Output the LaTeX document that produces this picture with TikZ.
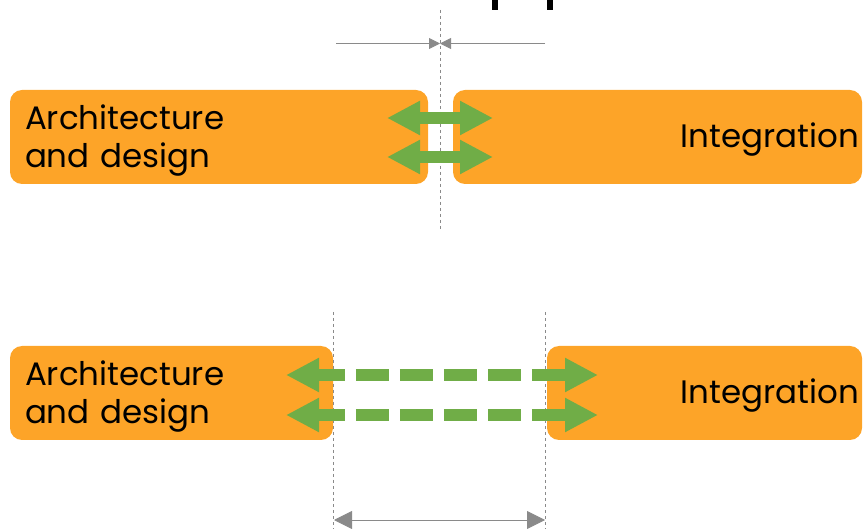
\documentclass[tikz,border=0pt]{standalone}
\usepackage{fontspec}
\setmainfont{Poppins}
\usepackage{xcolor}
\usetikzlibrary{arrows.meta}

\definecolor{boxorange}{HTML}{FDA428}
\definecolor{linkgreen}{HTML}{70AD47}
\definecolor{guidegray}{HTML}{8A8A8A}

\begin{document}
\begin{tikzpicture}[
  x=1pt, y=-1pt,
  block/.style={fill=boxorange, rounded corners=12pt, minimum height=94pt,
    inner sep=0pt, font=\fontsize{32.5}{38}\selectfont},
  leftblock/.style={block, align=left, text height=16pt, text depth=30pt},
  rightblock/.style={block, align=right, text height=32pt, text depth=10pt},
  link/.style={linkgreen, line width=12pt, {Triangle[length=33pt,width=32pt]}-{Triangle[length=33pt,width=32pt]}},
  guide/.style={guidegray, line width=0.8pt, dash pattern=on 3pt off 3pt},
  measure/.style={guidegray, line width=0.9pt},
]
  \useasboundingbox (0,0) rectangle (863,529);

  % clipped glyph ends at the top edge
  \fill[black] (492,0) rectangle (498,10.5);
  \fill[black] (547,0) rectangle (553,10.5);

  % tight hand-over
  \node[leftblock, minimum width=418pt, text width=388pt] (archTop) at (219,137)
    {Architecture\\and design};
  \node[rightblock, minimum width=409pt, text width=403pt] (integTop) at (657.5,137)
    {Integration};
  \coordinate (gapTopA) at (440,10);
  \coordinate (gapTopB) at (440,230);
  \draw[guide] (gapTopA) -- (gapTopB);

  \coordinate (mTopL) at (336,43.5);
  \coordinate (mTopR) at (545,43.5);
  \coordinate (mTopC) at (440,43.5);
  \draw[measure, -{Triangle[length=11pt,width=11pt]}] (mTopL) -- (mTopC);
  \draw[measure, -{Triangle[length=11pt,width=11pt]}] (mTopR) -- (mTopC);

  \coordinate (lnkA1) at (387,118);
  \coordinate (lnkA2) at (493,118);
  \coordinate (lnkB1) at (387,157);
  \coordinate (lnkB2) at (493,157);
  \draw[link] (lnkA1) -- (lnkA2);
  \draw[link] (lnkB1) -- (lnkB2);

  % loose hand-over
  \node[leftblock, minimum width=323pt, text width=293pt] (archBot) at (171.5,393)
    {Architecture\\and design};
  \node[rightblock, minimum width=315pt, text width=309pt] (integBot) at (704.5,393)
    {Integration};
  \coordinate (gapBotA) at (333,312);
  \coordinate (gapBotB) at (333,529);
  \coordinate (gapBotC) at (545,312);
  \coordinate (gapBotD) at (545,529);
  \draw[guide] (gapBotA) -- (gapBotB);
  \draw[guide] (gapBotC) -- (gapBotD);

  \coordinate (lnkC1) at (286,375);
  \coordinate (lnkC2) at (598,375);
  \coordinate (lnkD1) at (286,415);
  \coordinate (lnkD2) at (598,415);
  \draw[link, dash pattern=on 33pt off 11pt, dash phase=5pt] (lnkC1) -- (lnkC2);
  \draw[link, dash pattern=on 33pt off 11pt, dash phase=5pt] (lnkD1) -- (lnkD2);

  \coordinate (mBotL) at (334,520);
  \coordinate (mBotR) at (545,520);
  \draw[measure, {Triangle[length=18pt,width=18pt]}-{Triangle[length=18pt,width=18pt]}] (mBotL) -- (mBotR);
\end{tikzpicture}
\end{document}
